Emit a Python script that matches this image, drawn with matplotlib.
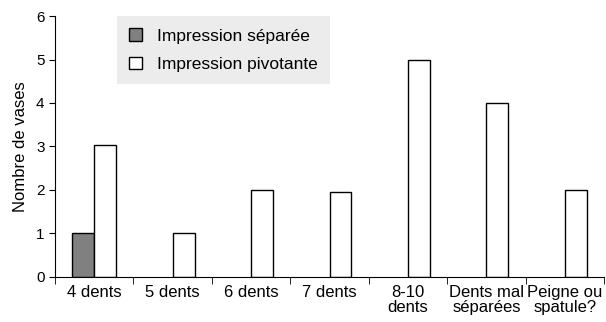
import matplotlib.pyplot as plt
import numpy as np

plt.rcParams['font.family'] = ['Liberation Sans', 'DejaVu Sans']

categories = ['4 dents', '5 dents', '6 dents', '7 dents', '8-10\ndents',
              'Dents mal\nséparées', 'Peigne ou\nspatule?']
separee = [1, 0, 0, 0, 0, 0, 0]
pivotante = [3.03, 1, 2, 1.95, 5, 4, 2]

fig = plt.figure(figsize=(6.06, 3.22), dpi=100)
ax = fig.add_axes([0.0908, 0.1398, 0.9059, 0.8105])

x = np.arange(len(categories))
w = 0.28
sep = [v if v > 0 else np.nan for v in separee]
ax.bar(x - w / 2, sep, w, color='#808080', edgecolor='black', linewidth=1,
       label='Impression séparée')
ax.bar(x + w / 2, pivotante, w, color='white', edgecolor='black', linewidth=1,
       label='Impression pivotante')

ax.set_xlim(-0.5, len(categories) - 0.5)
ax.set_ylim(0, 6)
ax.set_yticks(range(7))
ax.set_xticks(x)
ax.set_xticklabels(categories, fontsize=12, linespacing=1.0)
ax.set_xticks(np.arange(len(categories) + 1) - 0.5, minor=True)
ax.tick_params(axis='x', which='major', length=0, pad=6)
ax.tick_params(axis='x', which='minor', length=5, direction='out')
ax.tick_params(axis='y', labelsize=11, length=4)
ax.set_ylabel('Nombre de vases', fontsize=12, labelpad=6)
ax.spines['top'].set_visible(False)
ax.spines['right'].set_visible(False)

leg = ax.legend(loc='upper left', bbox_to_anchor=(0.113, 1.0), fontsize=12.5,
                frameon=True, fancybox=False, handlelength=0.75, handleheight=0.75,
                handletextpad=0.85, borderpad=0.7, labelspacing=0.75,
                borderaxespad=0)
leg.get_frame().set_facecolor('#ececec')
leg.get_frame().set_edgecolor('none')
leg.get_frame().set_alpha(1)

fig.savefig('out.png', dpi=100)
